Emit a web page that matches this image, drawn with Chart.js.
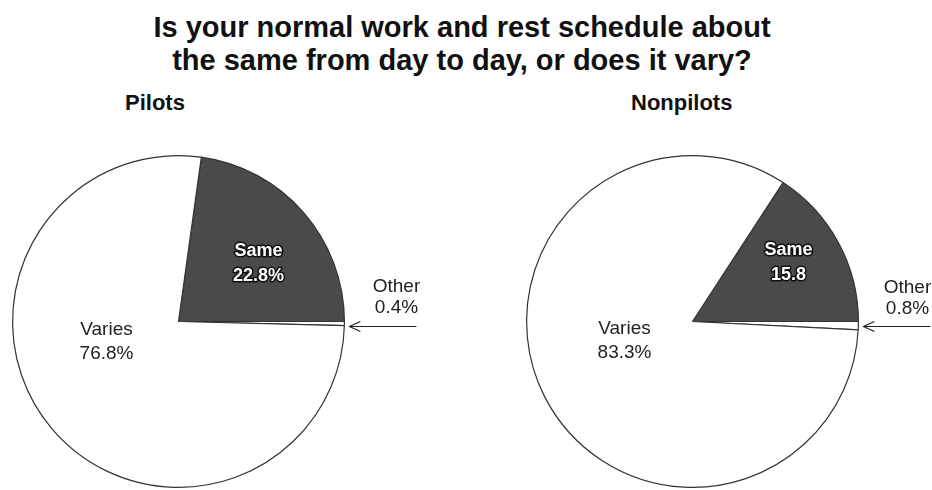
<!DOCTYPE html>
<html>
<head>
<meta charset="utf-8">
<script src="https://cdn.jsdelivr.net/npm/chart.js@4.4.1/dist/chart.umd.min.js"></script>
<style>
  body { margin: 0; background: #fff; }
  #wrap { position: relative; width: 932px; height: 490px; overflow: hidden; font-family: "Liberation Sans", Arial, sans-serif; }
  .title { position: absolute; left: 0; width: 924px; text-align: center; font-weight: bold; font-size: 29px; color: #111; line-height: 33px; top: 11px; }
  .sub { position: absolute; font-weight: bold; font-size: 22px; color: #111; top: 90px; }
  canvas { position: absolute; top: 0; }
</style>
</head>
<body>
<div id="wrap">
  <div class="title">Is your normal work and rest schedule about<br>the same from day to day, or does it vary?</div>
  <div class="sub" style="left:125px">Pilots</div>
  <div class="sub" style="left:631px">Nonpilots</div>
  <canvas id="pilots" width="466" height="490" style="left:0"></canvas>
  <canvas id="nonpilots" width="466" height="490" style="left:466px"></canvas>
</div>
<script>
// data
const categories = ['Same', 'Other', 'Varies'];
const pilotsValues = [22.8, 0.4, 76.8];
const nonpilotsValues = [15.8, 0.8, 83.3];
const pilotsTexts = ['22.8%', '0.4%', '76.8%'];
const nonpilotsTexts = ['15.8', '0.8%', '83.3%'];

// label offsets from pie centre (px)
const pilotsLabelPos = { same: [80, -70], other: [218, -35], varies: [-72, 8] };
const nonpilotsLabelPos = { same: [96, -71], other: [215, -34], varies: [-68, 7] };

const labelPlugin = {
    id: 'pieLabels',
    afterDatasetsDraw(chart, args, opts) {
        const ctx = chart.ctx;
        const arc = chart.getDatasetMeta(0).data[0];
        const cx = arc.x, cy = arc.y, r = arc.outerRadius;
        const texts = opts.texts, pos = opts.pos;
        ctx.save();
        ctx.textAlign = 'center';
        ctx.textBaseline = 'middle';

        // Same - white bold with dark outline
        ctx.font = 'bold 18px "Liberation Sans", Arial, sans-serif';
        ctx.lineJoin = 'round';
        ctx.lineWidth = 3;
        ctx.strokeStyle = '#111';
        ctx.fillStyle = '#fff';
        [[categories[0], 0], [texts[0], 25]].forEach(function (l) {
            ctx.strokeText(l[0], cx + pos.same[0], cy + pos.same[1] + l[1]);
            ctx.fillText(l[0], cx + pos.same[0], cy + pos.same[1] + l[1]);
        });

        // Varies + Other
        ctx.font = '19px "Liberation Sans", Arial, sans-serif';
        ctx.fillStyle = '#222';
        ctx.fillText(categories[2], cx + pos.varies[0], cy + pos.varies[1]);
        ctx.fillText(texts[2], cx + pos.varies[0], cy + pos.varies[1] + 24);
        ctx.fillText(categories[1], cx + pos.other[0], cy + pos.other[1]);
        ctx.fillText(texts[1], cx + pos.other[0], cy + pos.other[1] + 21);

        // arrow to the Other slice
        const ay = cy + 5;
        const x0 = cx + r + 5, x1 = cx + r + 72;
        ctx.strokeStyle = '#222';
        ctx.lineWidth = 1.2;
        ctx.beginPath();
        ctx.moveTo(x1, ay);
        ctx.lineTo(x0, ay);
        ctx.moveTo(x0 + 11, ay - 5);
        ctx.lineTo(x0, ay);
        ctx.lineTo(x0 + 11, ay + 5);
        ctx.stroke();
        ctx.restore();
    }
};

function makePie(id, values, texts, pos, padding) {
    const total = values.reduce((a, b) => a + b, 0);
    new Chart(document.getElementById(id), {
        type: 'pie',
        data: {
            labels: categories,
            datasets: [{
                data: values,
                backgroundColor: ['#4a4a4a', '#ffffff', '#ffffff'],
                borderColor: '#333',
                borderWidth: 1.2
            }]
        },
        options: {
            responsive: false,
            animation: false,
            rotation: 90 - values[0] / total * 360,
            layout: { padding: padding },
            plugins: {
                legend: { display: false },
                tooltip: { enabled: false },
                pieLabels: { texts: texts, pos: pos }
            }
        },
        plugins: [labelPlugin]
    });
}

makePie('pilots', pilotsValues, pilotsTexts, pilotsLabelPos, { left: 12, right: 121, top: 155, bottom: 2 });
makePie('nonpilots', nonpilotsValues, nonpilotsTexts, nonpilotsLabelPos, { left: 60, right: 73, top: 155, bottom: 2 });
</script>
</body>
</html>
